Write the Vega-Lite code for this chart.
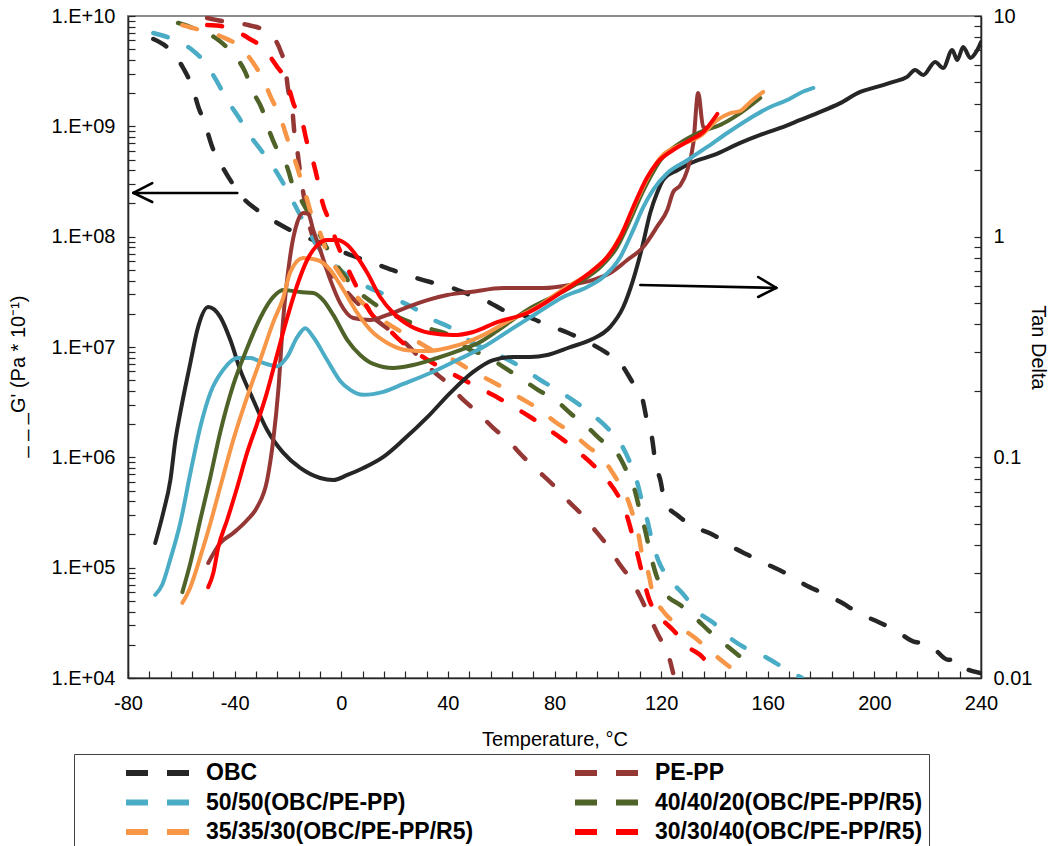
{
  "$schema": "https://vega.github.io/schema/vega-lite/v6.json",
  "width": 853,
  "height": 662,
  "autosize": {"type": "none"},
  "padding": {"left": 128, "top": 16, "right": 69, "bottom": 168},
  "background": "white",
  "config": {
    "font": "Liberation Sans",
    "view": {"stroke": "#8c8c8c", "strokeWidth": 2},
    "axis": {
      "grid": false,
      "domainColor": "#262626",
      "domainWidth": 1.6,
      "tickColor": "#262626",
      "tickWidth": 1.2,
      "tickSize": -7,
      "labelOverlap": false,
      "labelFont": "Liberation Sans",
      "labelFontSize": 20,
      "labelColor": "#000000",
      "titleFont": "Liberation Sans",
      "titleFontSize": 20,
      "titleFontWeight": "normal",
      "titleColor": "#000000"
    }
  },
  "datasets": {
    "storage": [
      {"Sample": "OBC", "Temperature": -70.5, "StorageModulus": 6.19e9},
      {"Sample": "OBC", "Temperature": -64.2, "StorageModulus": 4.92e9},
      {"Sample": "OBC", "Temperature": -59.3, "StorageModulus": 3.38e9},
      {"Sample": "OBC", "Temperature": -55.9, "StorageModulus": 2.27e9},
      {"Sample": "OBC", "Temperature": -53.6, "StorageModulus": 1.50e9},
      {"Sample": "OBC", "Temperature": -51.0, "StorageModulus": 1.03e9},
      {"Sample": "OBC", "Temperature": -48.4, "StorageModulus": 6.50e8},
      {"Sample": "OBC", "Temperature": -45.4, "StorageModulus": 4.66e8},
      {"Sample": "OBC", "Temperature": -40.9, "StorageModulus": 3.06e8},
      {"Sample": "OBC", "Temperature": -36.8, "StorageModulus": 2.24e8},
      {"Sample": "OBC", "Temperature": -30.4, "StorageModulus": 1.67e8},
      {"Sample": "OBC", "Temperature": -24.0, "StorageModulus": 1.33e8},
      {"Sample": "OBC", "Temperature": -15.4, "StorageModulus": 1.04e8},
      {"Sample": "OBC", "Temperature": -8.6, "StorageModulus": 8.95e7},
      {"Sample": "OBC", "Temperature": -3.0, "StorageModulus": 7.89e7},
      {"Sample": "OBC", "Temperature": 3.4, "StorageModulus": 6.82e7},
      {"Sample": "OBC", "Temperature": 12.0, "StorageModulus": 5.77e7},
      {"Sample": "OBC", "Temperature": 19.1, "StorageModulus": 4.99e7},
      {"Sample": "OBC", "Temperature": 27.0, "StorageModulus": 4.31e7},
      {"Sample": "OBC", "Temperature": 33.4, "StorageModulus": 3.88e7},
      {"Sample": "OBC", "Temperature": 41.6, "StorageModulus": 3.43e7},
      {"Sample": "OBC", "Temperature": 48.4, "StorageModulus": 2.96e7},
      {"Sample": "OBC", "Temperature": 55.9, "StorageModulus": 2.51e7},
      {"Sample": "OBC", "Temperature": 60.8, "StorageModulus": 2.16e7},
      {"Sample": "OBC", "Temperature": 70.2, "StorageModulus": 1.87e7},
      {"Sample": "OBC", "Temperature": 77.3, "StorageModulus": 1.58e7},
      {"Sample": "OBC", "Temperature": 85.2, "StorageModulus": 1.34e7},
      {"Sample": "OBC", "Temperature": 90.8, "StorageModulus": 1.16e7},
      {"Sample": "OBC", "Temperature": 99.0, "StorageModulus": 9.02e6},
      {"Sample": "OBC", "Temperature": 104.7, "StorageModulus": 7.16e6},
      {"Sample": "OBC", "Temperature": 109.2, "StorageModulus": 4.82e6},
      {"Sample": "OBC", "Temperature": 112.9, "StorageModulus": 3.45e6},
      {"Sample": "OBC", "Temperature": 114.8, "StorageModulus": 2.09e6},
      {"Sample": "OBC", "Temperature": 116.7, "StorageModulus": 1.44e6},
      {"Sample": "OBC", "Temperature": 117.8, "StorageModulus": 9.08e5},
      {"Sample": "OBC", "Temperature": 119.7, "StorageModulus": 6.22e5},
      {"Sample": "OBC", "Temperature": 121.5, "StorageModulus": 3.85e5},
      {"Sample": "OBC", "Temperature": 126.0, "StorageModulus": 3.00e5},
      {"Sample": "OBC", "Temperature": 132.8, "StorageModulus": 2.33e5},
      {"Sample": "OBC", "Temperature": 139.6, "StorageModulus": 1.98e5},
      {"Sample": "OBC", "Temperature": 146.7, "StorageModulus": 1.54e5},
      {"Sample": "OBC", "Temperature": 152.7, "StorageModulus": 1.30e5},
      {"Sample": "OBC", "Temperature": 160.2, "StorageModulus": 1.06e5},
      {"Sample": "OBC", "Temperature": 166.6, "StorageModulus": 8.95e4},
      {"Sample": "OBC", "Temperature": 174.1, "StorageModulus": 6.97e4},
      {"Sample": "OBC", "Temperature": 180.5, "StorageModulus": 5.89e4},
      {"Sample": "OBC", "Temperature": 188.0, "StorageModulus": 4.78e4},
      {"Sample": "OBC", "Temperature": 194.0, "StorageModulus": 3.88e4},
      {"Sample": "OBC", "Temperature": 201.5, "StorageModulus": 3.22e4},
      {"Sample": "OBC", "Temperature": 207.8, "StorageModulus": 2.72e4},
      {"Sample": "OBC", "Temperature": 215.3, "StorageModulus": 2.12e4},
      {"Sample": "OBC", "Temperature": 219.1, "StorageModulus": 2.07e4},
      {"Sample": "OBC", "Temperature": 221.7, "StorageModulus": 1.91e4},
      {"Sample": "OBC", "Temperature": 227.7, "StorageModulus": 1.46e4},
      {"Sample": "OBC", "Temperature": 230.3, "StorageModulus": 1.49e4},
      {"Sample": "OBC", "Temperature": 232.2, "StorageModulus": 1.31e4},
      {"Sample": "OBC", "Temperature": 239.7, "StorageModulus": 1.11e4},

      {"Sample": "PE-PP", "Temperature": -50.3, "StorageModulus": 9.6e9},
      {"Sample": "PE-PP", "Temperature": -42.8, "StorageModulus": 8.83e9},
      {"Sample": "PE-PP", "Temperature": -34.9, "StorageModulus": 8.28e9},
      {"Sample": "PE-PP", "Temperature": -27.8, "StorageModulus": 7.16e9},
      {"Sample": "PE-PP", "Temperature": -22.9, "StorageModulus": 4.92e9},
      {"Sample": "PE-PP", "Temperature": -21.0, "StorageModulus": 3.45e9},
      {"Sample": "PE-PP", "Temperature": -19.9, "StorageModulus": 2.13e9},
      {"Sample": "PE-PP", "Temperature": -18.4, "StorageModulus": 1.47e9},
      {"Sample": "PE-PP", "Temperature": -17.6, "StorageModulus": 8.89e8},
      {"Sample": "PE-PP", "Temperature": -16.5, "StorageModulus": 6.10e8},
      {"Sample": "PE-PP", "Temperature": -15.4, "StorageModulus": 3.78e8},
      {"Sample": "PE-PP", "Temperature": -14.6, "StorageModulus": 2.82e8},
      {"Sample": "PE-PP", "Temperature": -12.8, "StorageModulus": 1.57e8},
      {"Sample": "PE-PP", "Temperature": -7.9, "StorageModulus": 6.82e7},
      {"Sample": "PE-PP", "Temperature": 1.5, "StorageModulus": 3.29e7},
      {"Sample": "PE-PP", "Temperature": 10.9, "StorageModulus": 1.95e7},
      {"Sample": "PE-PP", "Temperature": 22.1, "StorageModulus": 1.2e7},
      {"Sample": "PE-PP", "Temperature": 35.3, "StorageModulus": 5.81e6},
      {"Sample": "PE-PP", "Temperature": 39.8, "StorageModulus": 4.72e6},
      {"Sample": "PE-PP", "Temperature": 45.8, "StorageModulus": 3.31e6},
      {"Sample": "PE-PP", "Temperature": 51.0, "StorageModulus": 2.58e6},
      {"Sample": "PE-PP", "Temperature": 57.0, "StorageModulus": 1.85e6},
      {"Sample": "PE-PP", "Temperature": 62.3, "StorageModulus": 1.44e6},
      {"Sample": "PE-PP", "Temperature": 68.3, "StorageModulus": 1.01e6},
      {"Sample": "PE-PP", "Temperature": 73.5, "StorageModulus": 7.67e5},
      {"Sample": "PE-PP", "Temperature": 79.5, "StorageModulus": 5.61e5},
      {"Sample": "PE-PP", "Temperature": 84.0, "StorageModulus": 4.28e5},
      {"Sample": "PE-PP", "Temperature": 90.4, "StorageModulus": 3.00e5},
      {"Sample": "PE-PP", "Temperature": 94.5, "StorageModulus": 2.29e5},
      {"Sample": "PE-PP", "Temperature": 100.2, "StorageModulus": 1.54e5},
      {"Sample": "PE-PP", "Temperature": 103.9, "StorageModulus": 1.12e5},
      {"Sample": "PE-PP", "Temperature": 109.2, "StorageModulus": 7.41e4},
      {"Sample": "PE-PP", "Temperature": 112.2, "StorageModulus": 5.42e4},
      {"Sample": "PE-PP", "Temperature": 115.9, "StorageModulus": 3.50e4},
      {"Sample": "PE-PP", "Temperature": 118.9, "StorageModulus": 2.45e4},
      {"Sample": "PE-PP", "Temperature": 122.7, "StorageModulus": 1.62e4},
      {"Sample": "PE-PP", "Temperature": 124.5, "StorageModulus": 1.11e4},

      {"Sample": "50/50(OBC/PE-PP)", "Temperature": -70.5, "StorageModulus": 7.02e9},
      {"Sample": "50/50(OBC/PE-PP)", "Temperature": -63.4, "StorageModulus": 6.19e9},
      {"Sample": "50/50(OBC/PE-PP)", "Temperature": -55.9, "StorageModulus": 4.92e9},
      {"Sample": "50/50(OBC/PE-PP)", "Temperature": -51.0, "StorageModulus": 3.75e9},
      {"Sample": "50/50(OBC/PE-PP)", "Temperature": -46.5, "StorageModulus": 2.52e9},
      {"Sample": "50/50(OBC/PE-PP)", "Temperature": -42.8, "StorageModulus": 1.73e9},
      {"Sample": "50/50(OBC/PE-PP)", "Temperature": -38.6, "StorageModulus": 1.22e9},
      {"Sample": "50/50(OBC/PE-PP)", "Temperature": -34.9, "StorageModulus": 8.71e8},
      {"Sample": "50/50(OBC/PE-PP)", "Temperature": -29.6, "StorageModulus": 5.85e8},
      {"Sample": "50/50(OBC/PE-PP)", "Temperature": -25.5, "StorageModulus": 4.28e8},
      {"Sample": "50/50(OBC/PE-PP)", "Temperature": -21.0, "StorageModulus": 2.82e8},
      {"Sample": "50/50(OBC/PE-PP)", "Temperature": -18.0, "StorageModulus": 2.06e8},
      {"Sample": "50/50(OBC/PE-PP)", "Temperature": -13.5, "StorageModulus": 1.28e8},
      {"Sample": "50/50(OBC/PE-PP)", "Temperature": -7.9, "StorageModulus": 7.57e7},
      {"Sample": "50/50(OBC/PE-PP)", "Temperature": -0.4, "StorageModulus": 4.99e7},
      {"Sample": "50/50(OBC/PE-PP)", "Temperature": 6.0, "StorageModulus": 3.88e7},
      {"Sample": "50/50(OBC/PE-PP)", "Temperature": 9.8, "StorageModulus": 3.50e7},
      {"Sample": "50/50(OBC/PE-PP)", "Temperature": 21.0, "StorageModulus": 2.67e7},
      {"Sample": "50/50(OBC/PE-PP)", "Temperature": 25.9, "StorageModulus": 2.35e7},
      {"Sample": "50/50(OBC/PE-PP)", "Temperature": 34.5, "StorageModulus": 1.76e7},
      {"Sample": "50/50(OBC/PE-PP)", "Temperature": 39.8, "StorageModulus": 1.55e7},
      {"Sample": "50/50(OBC/PE-PP)", "Temperature": 49.5, "StorageModulus": 1.09e7},
      {"Sample": "50/50(OBC/PE-PP)", "Temperature": 54.8, "StorageModulus": 9.40e6},
      {"Sample": "50/50(OBC/PE-PP)", "Temperature": 64.2, "StorageModulus": 7.31e6},
      {"Sample": "50/50(OBC/PE-PP)", "Temperature": 67.9, "StorageModulus": 6.46e6},
      {"Sample": "50/50(OBC/PE-PP)", "Temperature": 74.7, "StorageModulus": 5.02e6},
      {"Sample": "50/50(OBC/PE-PP)", "Temperature": 81.0, "StorageModulus": 4.07e6},
      {"Sample": "50/50(OBC/PE-PP)", "Temperature": 88.5, "StorageModulus": 3.10e6},
      {"Sample": "50/50(OBC/PE-PP)", "Temperature": 93.4, "StorageModulus": 2.52e6},
      {"Sample": "50/50(OBC/PE-PP)", "Temperature": 99.8, "StorageModulus": 1.85e6},
      {"Sample": "50/50(OBC/PE-PP)", "Temperature": 104.7, "StorageModulus": 1.35e6},
      {"Sample": "50/50(OBC/PE-PP)", "Temperature": 108.4, "StorageModulus": 8.89e5},
      {"Sample": "50/50(OBC/PE-PP)", "Temperature": 111.0, "StorageModulus": 5.97e5},
      {"Sample": "50/50(OBC/PE-PP)", "Temperature": 112.9, "StorageModulus": 3.94e5},
      {"Sample": "50/50(OBC/PE-PP)", "Temperature": 114.8, "StorageModulus": 2.70e5},
      {"Sample": "50/50(OBC/PE-PP)", "Temperature": 116.7, "StorageModulus": 1.71e5},
      {"Sample": "50/50(OBC/PE-PP)", "Temperature": 118.9, "StorageModulus": 1.17e5},
      {"Sample": "50/50(OBC/PE-PP)", "Temperature": 123.4, "StorageModulus": 7.73e4},
      {"Sample": "50/50(OBC/PE-PP)", "Temperature": 127.9, "StorageModulus": 5.89e4},
      {"Sample": "50/50(OBC/PE-PP)", "Temperature": 133.9, "StorageModulus": 3.96e4},
      {"Sample": "50/50(OBC/PE-PP)", "Temperature": 139.6, "StorageModulus": 3.16e4},
      {"Sample": "50/50(OBC/PE-PP)", "Temperature": 145.9, "StorageModulus": 2.30e4},
      {"Sample": "50/50(OBC/PE-PP)", "Temperature": 151.6, "StorageModulus": 1.87e4},
      {"Sample": "50/50(OBC/PE-PP)", "Temperature": 159.8, "StorageModulus": 1.52e4},
      {"Sample": "50/50(OBC/PE-PP)", "Temperature": 165.4, "StorageModulus": 1.26e4},
      {"Sample": "50/50(OBC/PE-PP)", "Temperature": 172.9, "StorageModulus": 1.0e4},

      {"Sample": "40/40/20(OBC/PE-PP/R5)", "Temperature": -61.2, "StorageModulus": 8.65e9},
      {"Sample": "40/40/20(OBC/PE-PP/R5)", "Temperature": -56.6, "StorageModulus": 7.94e9},
      {"Sample": "40/40/20(OBC/PE-PP/R5)", "Temperature": -46.1, "StorageModulus": 6.05e9},
      {"Sample": "40/40/20(OBC/PE-PP/R5)", "Temperature": -40.9, "StorageModulus": 4.62e9},
      {"Sample": "40/40/20(OBC/PE-PP/R5)", "Temperature": -36.0, "StorageModulus": 3.10e9},
      {"Sample": "40/40/20(OBC/PE-PP/R5)", "Temperature": -33.4, "StorageModulus": 2.13e9},
      {"Sample": "40/40/20(OBC/PE-PP/R5)", "Temperature": -29.6, "StorageModulus": 1.41e9},
      {"Sample": "40/40/20(OBC/PE-PP/R5)", "Temperature": -27.4, "StorageModulus": 9.66e8},
      {"Sample": "40/40/20(OBC/PE-PP/R5)", "Temperature": -24.0, "StorageModulus": 6.10e8},
      {"Sample": "40/40/20(OBC/PE-PP/R5)", "Temperature": -20.3, "StorageModulus": 4.28e8},
      {"Sample": "40/40/20(OBC/PE-PP/R5)", "Temperature": -18.0, "StorageModulus": 2.82e8},
      {"Sample": "40/40/20(OBC/PE-PP/R5)", "Temperature": -14.6, "StorageModulus": 2.06e8},
      {"Sample": "40/40/20(OBC/PE-PP/R5)", "Temperature": -10.5, "StorageModulus": 1.36e8},
      {"Sample": "40/40/20(OBC/PE-PP/R5)", "Temperature": -6.0, "StorageModulus": 8.40e7},
      {"Sample": "40/40/20(OBC/PE-PP/R5)", "Temperature": -0.4, "StorageModulus": 4.99e7},
      {"Sample": "40/40/20(OBC/PE-PP/R5)", "Temperature": 7.1, "StorageModulus": 3.08e7},
      {"Sample": "40/40/20(OBC/PE-PP/R5)", "Temperature": 10.9, "StorageModulus": 2.61e7},
      {"Sample": "40/40/20(OBC/PE-PP/R5)", "Temperature": 22.1, "StorageModulus": 1.83e7},
      {"Sample": "40/40/20(OBC/PE-PP/R5)", "Temperature": 34.5, "StorageModulus": 1.43e7},
      {"Sample": "40/40/20(OBC/PE-PP/R5)", "Temperature": 39.8, "StorageModulus": 1.31e7},
      {"Sample": "40/40/20(OBC/PE-PP/R5)", "Temperature": 48.4, "StorageModulus": 9.40e6},
      {"Sample": "40/40/20(OBC/PE-PP/R5)", "Temperature": 54.0, "StorageModulus": 8.45e6},
      {"Sample": "40/40/20(OBC/PE-PP/R5)", "Temperature": 60.8, "StorageModulus": 6.59e6},
      {"Sample": "40/40/20(OBC/PE-PP/R5)", "Temperature": 67.2, "StorageModulus": 5.24e6},
      {"Sample": "40/40/20(OBC/PE-PP/R5)", "Temperature": 73.9, "StorageModulus": 4.07e6},
      {"Sample": "40/40/20(OBC/PE-PP/R5)", "Temperature": 80.3, "StorageModulus": 3.31e6},
      {"Sample": "40/40/20(OBC/PE-PP/R5)", "Temperature": 86.7, "StorageModulus": 2.42e6},
      {"Sample": "40/40/20(OBC/PE-PP/R5)", "Temperature": 92.3, "StorageModulus": 1.88e6},
      {"Sample": "40/40/20(OBC/PE-PP/R5)", "Temperature": 98.3, "StorageModulus": 1.38e6},
      {"Sample": "40/40/20(OBC/PE-PP/R5)", "Temperature": 103.5, "StorageModulus": 1.09e6},
      {"Sample": "40/40/20(OBC/PE-PP/R5)", "Temperature": 107.7, "StorageModulus": 6.92e5},
      {"Sample": "40/40/20(OBC/PE-PP/R5)", "Temperature": 110.3, "StorageModulus": 4.85e5},
      {"Sample": "40/40/20(OBC/PE-PP/R5)", "Temperature": 112.2, "StorageModulus": 3.13e5},
      {"Sample": "40/40/20(OBC/PE-PP/R5)", "Temperature": 114.0, "StorageModulus": 2.19e5},
      {"Sample": "40/40/20(OBC/PE-PP/R5)", "Temperature": 115.9, "StorageModulus": 1.36e5},
      {"Sample": "40/40/20(OBC/PE-PP/R5)", "Temperature": 117.8, "StorageModulus": 9.14e4},
      {"Sample": "40/40/20(OBC/PE-PP/R5)", "Temperature": 121.5, "StorageModulus": 5.89e4},
      {"Sample": "40/40/20(OBC/PE-PP/R5)", "Temperature": 127.2, "StorageModulus": 4.59e4},
      {"Sample": "40/40/20(OBC/PE-PP/R5)", "Temperature": 133.6, "StorageModulus": 3.36e4},
      {"Sample": "40/40/20(OBC/PE-PP/R5)", "Temperature": 138.4, "StorageModulus": 2.61e4},
      {"Sample": "40/40/20(OBC/PE-PP/R5)", "Temperature": 145.2, "StorageModulus": 1.91e4},
      {"Sample": "40/40/20(OBC/PE-PP/R5)", "Temperature": 151.6, "StorageModulus": 1.43e4},

      {"Sample": "35/35/30(OBC/PE-PP/R5)", "Temperature": -59.6, "StorageModulus": 8.28e9},
      {"Sample": "35/35/30(OBC/PE-PP/R5)", "Temperature": -52.9, "StorageModulus": 7.46e9},
      {"Sample": "35/35/30(OBC/PE-PP/R5)", "Temperature": -44.6, "StorageModulus": 6.46e9},
      {"Sample": "35/35/30(OBC/PE-PP/R5)", "Temperature": -39.0, "StorageModulus": 5.46e9},
      {"Sample": "35/35/30(OBC/PE-PP/R5)", "Temperature": -33.0, "StorageModulus": 3.75e9},
      {"Sample": "35/35/30(OBC/PE-PP/R5)", "Temperature": -29.6, "StorageModulus": 2.74e9},
      {"Sample": "35/35/30(OBC/PE-PP/R5)", "Temperature": -25.9, "StorageModulus": 1.73e9},
      {"Sample": "35/35/30(OBC/PE-PP/R5)", "Temperature": -22.9, "StorageModulus": 1.22e9},
      {"Sample": "35/35/30(OBC/PE-PP/R5)", "Temperature": -20.3, "StorageModulus": 7.83e8},
      {"Sample": "35/35/30(OBC/PE-PP/R5)", "Temperature": -18.0, "StorageModulus": 5.50e8},
      {"Sample": "35/35/30(OBC/PE-PP/R5)", "Temperature": -15.4, "StorageModulus": 3.48e8},
      {"Sample": "35/35/30(OBC/PE-PP/R5)", "Temperature": -13.5, "StorageModulus": 2.49e8},
      {"Sample": "35/35/30(OBC/PE-PP/R5)", "Temperature": -10.9, "StorageModulus": 1.51e8},
      {"Sample": "35/35/30(OBC/PE-PP/R5)", "Temperature": -7.9, "StorageModulus": 1.08e8},
      {"Sample": "35/35/30(OBC/PE-PP/R5)", "Temperature": -5.3, "StorageModulus": 7.11e7},
      {"Sample": "35/35/30(OBC/PE-PP/R5)", "Temperature": -1.5, "StorageModulus": 4.99e7},
      {"Sample": "35/35/30(OBC/PE-PP/R5)", "Temperature": 5.3, "StorageModulus": 2.96e7},
      {"Sample": "35/35/30(OBC/PE-PP/R5)", "Temperature": 14.6, "StorageModulus": 1.83e7},
      {"Sample": "35/35/30(OBC/PE-PP/R5)", "Temperature": 25.9, "StorageModulus": 1.23e7},
      {"Sample": "35/35/30(OBC/PE-PP/R5)", "Temperature": 35.3, "StorageModulus": 9.02e6},
      {"Sample": "35/35/30(OBC/PE-PP/R5)", "Temperature": 43.5, "StorageModulus": 7.31e6},
      {"Sample": "35/35/30(OBC/PE-PP/R5)", "Temperature": 46.5, "StorageModulus": 6.59e6},
      {"Sample": "35/35/30(OBC/PE-PP/R5)", "Temperature": 54.0, "StorageModulus": 5.24e6},
      {"Sample": "35/35/30(OBC/PE-PP/R5)", "Temperature": 58.9, "StorageModulus": 4.53e6},
      {"Sample": "35/35/30(OBC/PE-PP/R5)", "Temperature": 67.2, "StorageModulus": 3.45e6},
      {"Sample": "35/35/30(OBC/PE-PP/R5)", "Temperature": 73.5, "StorageModulus": 2.80e6},
      {"Sample": "35/35/30(OBC/PE-PP/R5)", "Temperature": 80.3, "StorageModulus": 2.09e6},
      {"Sample": "35/35/30(OBC/PE-PP/R5)", "Temperature": 85.9, "StorageModulus": 1.70e6},
      {"Sample": "35/35/30(OBC/PE-PP/R5)", "Temperature": 92.7, "StorageModulus": 1.24e6},
      {"Sample": "35/35/30(OBC/PE-PP/R5)", "Temperature": 97.9, "StorageModulus": 9.86e5},
      {"Sample": "35/35/30(OBC/PE-PP/R5)", "Temperature": 102.8, "StorageModulus": 6.64e5},
      {"Sample": "35/35/30(OBC/PE-PP/R5)", "Temperature": 106.5, "StorageModulus": 4.75e5},
      {"Sample": "35/35/30(OBC/PE-PP/R5)", "Temperature": 109.2, "StorageModulus": 3.13e5},
      {"Sample": "35/35/30(OBC/PE-PP/R5)", "Temperature": 111.4, "StorageModulus": 2.06e5},
      {"Sample": "35/35/30(OBC/PE-PP/R5)", "Temperature": 112.9, "StorageModulus": 1.30e5},
      {"Sample": "35/35/30(OBC/PE-PP/R5)", "Temperature": 115.2, "StorageModulus": 8.95e4},
      {"Sample": "35/35/30(OBC/PE-PP/R5)", "Temperature": 117.0, "StorageModulus": 5.65e4},
      {"Sample": "35/35/30(OBC/PE-PP/R5)", "Temperature": 120.4, "StorageModulus": 4.13e4},
      {"Sample": "35/35/30(OBC/PE-PP/R5)", "Temperature": 127.2, "StorageModulus": 2.90e4},
      {"Sample": "35/35/30(OBC/PE-PP/R5)", "Temperature": 132.8, "StorageModulus": 2.30e4},
      {"Sample": "35/35/30(OBC/PE-PP/R5)", "Temperature": 139.2, "StorageModulus": 1.69e4},
      {"Sample": "35/35/30(OBC/PE-PP/R5)", "Temperature": 144.8, "StorageModulus": 1.31e4},
      {"Sample": "35/35/30(OBC/PE-PP/R5)", "Temperature": 152.3, "StorageModulus": 1.0e4},

      {"Sample": "30/30/40(OBC/PE-PP/R5)", "Temperature": -50.3, "StorageModulus": 8.28e9},
      {"Sample": "30/30/40(OBC/PE-PP/R5)", "Temperature": -42.8, "StorageModulus": 7.94e9},
      {"Sample": "30/30/40(OBC/PE-PP/R5)", "Temperature": -34.9, "StorageModulus": 6.32e9},
      {"Sample": "30/30/40(OBC/PE-PP/R5)", "Temperature": -29.3, "StorageModulus": 5.13e9},
      {"Sample": "30/30/40(OBC/PE-PP/R5)", "Temperature": -24.0, "StorageModulus": 3.45e9},
      {"Sample": "30/30/40(OBC/PE-PP/R5)", "Temperature": -20.3, "StorageModulus": 2.52e9},
      {"Sample": "30/30/40(OBC/PE-PP/R5)", "Temperature": -18.0, "StorageModulus": 1.63e9},
      {"Sample": "30/30/40(OBC/PE-PP/R5)", "Temperature": -14.6, "StorageModulus": 1.09e9},
      {"Sample": "30/30/40(OBC/PE-PP/R5)", "Temperature": -12.8, "StorageModulus": 7.06e8},
      {"Sample": "30/30/40(OBC/PE-PP/R5)", "Temperature": -10.5, "StorageModulus": 4.75e8},
      {"Sample": "30/30/40(OBC/PE-PP/R5)", "Temperature": -8.6, "StorageModulus": 3.06e8},
      {"Sample": "30/30/40(OBC/PE-PP/R5)", "Temperature": -7.1, "StorageModulus": 2.06e8},
      {"Sample": "30/30/40(OBC/PE-PP/R5)", "Temperature": -4.1, "StorageModulus": 1.33e8},
      {"Sample": "30/30/40(OBC/PE-PP/R5)", "Temperature": -2.3, "StorageModulus": 9.73e7},
      {"Sample": "30/30/40(OBC/PE-PP/R5)", "Temperature": 1.5, "StorageModulus": 5.77e7},
      {"Sample": "30/30/40(OBC/PE-PP/R5)", "Temperature": 4.5, "StorageModulus": 4.05e7},
      {"Sample": "30/30/40(OBC/PE-PP/R5)", "Temperature": 7.9, "StorageModulus": 2.78e7},
      {"Sample": "30/30/40(OBC/PE-PP/R5)", "Temperature": 10.9, "StorageModulus": 2.07e7},
      {"Sample": "30/30/40(OBC/PE-PP/R5)", "Temperature": 17.3, "StorageModulus": 1.49e7},
      {"Sample": "30/30/40(OBC/PE-PP/R5)", "Temperature": 21.0, "StorageModulus": 1.21e7},
      {"Sample": "30/30/40(OBC/PE-PP/R5)", "Temperature": 29.6, "StorageModulus": 8.45e6},
      {"Sample": "30/30/40(OBC/PE-PP/R5)", "Temperature": 43.9, "StorageModulus": 5.35e6},
      {"Sample": "30/30/40(OBC/PE-PP/R5)", "Temperature": 49.5, "StorageModulus": 4.53e6},
      {"Sample": "30/30/40(OBC/PE-PP/R5)", "Temperature": 57.0, "StorageModulus": 3.67e6},
      {"Sample": "30/30/40(OBC/PE-PP/R5)", "Temperature": 63.4, "StorageModulus": 2.98e6},
      {"Sample": "30/30/40(OBC/PE-PP/R5)", "Temperature": 70.9, "StorageModulus": 2.32e6},
      {"Sample": "30/30/40(OBC/PE-PP/R5)", "Temperature": 76.5, "StorageModulus": 1.88e6},
      {"Sample": "30/30/40(OBC/PE-PP/R5)", "Temperature": 83.3, "StorageModulus": 1.44e6},
      {"Sample": "30/30/40(OBC/PE-PP/R5)", "Temperature": 88.9, "StorageModulus": 1.12e6},
      {"Sample": "30/30/40(OBC/PE-PP/R5)", "Temperature": 95.3, "StorageModulus": 8.17e5},
      {"Sample": "30/30/40(OBC/PE-PP/R5)", "Temperature": 99.8, "StorageModulus": 6.22e5},
      {"Sample": "30/30/40(OBC/PE-PP/R5)", "Temperature": 104.7, "StorageModulus": 4.10e5},
      {"Sample": "30/30/40(OBC/PE-PP/R5)", "Temperature": 107.3, "StorageModulus": 2.88e5},
      {"Sample": "30/30/40(OBC/PE-PP/R5)", "Temperature": 109.5, "StorageModulus": 1.86e5},
      {"Sample": "30/30/40(OBC/PE-PP/R5)", "Temperature": 111.4, "StorageModulus": 1.25e5},
      {"Sample": "30/30/40(OBC/PE-PP/R5)", "Temperature": 113.3, "StorageModulus": 8.05e4},
      {"Sample": "30/30/40(OBC/PE-PP/R5)", "Temperature": 115.2, "StorageModulus": 5.42e4},
      {"Sample": "30/30/40(OBC/PE-PP/R5)", "Temperature": 119.7, "StorageModulus": 3.57e4},
      {"Sample": "30/30/40(OBC/PE-PP/R5)", "Temperature": 124.5, "StorageModulus": 2.72e4},
      {"Sample": "30/30/40(OBC/PE-PP/R5)", "Temperature": 130.2, "StorageModulus": 1.91e4},
      {"Sample": "30/30/40(OBC/PE-PP/R5)", "Temperature": 135.8, "StorageModulus": 1.52e4},
      {"Sample": "30/30/40(OBC/PE-PP/R5)", "Temperature": 140.3, "StorageModulus": 1.02e4}
    ],
    "damping": [
      {"Sample": "OBC", "Temperature": -69.8, "TanDelta": 0.0409},
      {"Sample": "OBC", "Temperature": -66.8, "TanDelta": 0.0560},
      {"Sample": "OBC", "Temperature": -64.1, "TanDelta": 0.0789},
      {"Sample": "OBC", "Temperature": -62.2, "TanDelta": 0.120},
      {"Sample": "OBC", "Temperature": -60.4, "TanDelta": 0.159},
      {"Sample": "OBC", "Temperature": -56.6, "TanDelta": 0.268},
      {"Sample": "OBC", "Temperature": -54.0, "TanDelta": 0.378},
      {"Sample": "OBC", "Temperature": -49.9, "TanDelta": 0.480},
      {"Sample": "OBC", "Temperature": -45.4, "TanDelta": 0.433},
      {"Sample": "OBC", "Temperature": -41.6, "TanDelta": 0.340},
      {"Sample": "OBC", "Temperature": -37.9, "TanDelta": 0.249},
      {"Sample": "OBC", "Temperature": -33.0, "TanDelta": 0.182},
      {"Sample": "OBC", "Temperature": -27.8, "TanDelta": 0.133},
      {"Sample": "OBC", "Temperature": -21.8, "TanDelta": 0.105},
      {"Sample": "OBC", "Temperature": -15.4, "TanDelta": 0.0895},
      {"Sample": "OBC", "Temperature": -7.9, "TanDelta": 0.0806},
      {"Sample": "OBC", "Temperature": -3.0, "TanDelta": 0.0789},
      {"Sample": "OBC", "Temperature": 2.3, "TanDelta": 0.0832},
      {"Sample": "OBC", "Temperature": 8.3, "TanDelta": 0.0895},
      {"Sample": "OBC", "Temperature": 15.8, "TanDelta": 0.1005},
      {"Sample": "OBC", "Temperature": 23.3, "TanDelta": 0.120},
      {"Sample": "OBC", "Temperature": 32.3, "TanDelta": 0.152},
      {"Sample": "OBC", "Temperature": 40.9, "TanDelta": 0.196},
      {"Sample": "OBC", "Temperature": 49.5, "TanDelta": 0.244},
      {"Sample": "OBC", "Temperature": 57.0, "TanDelta": 0.276},
      {"Sample": "OBC", "Temperature": 64.5, "TanDelta": 0.285},
      {"Sample": "OBC", "Temperature": 70.9, "TanDelta": 0.285},
      {"Sample": "OBC", "Temperature": 77.3, "TanDelta": 0.291},
      {"Sample": "OBC", "Temperature": 85.9, "TanDelta": 0.316},
      {"Sample": "OBC", "Temperature": 93.4, "TanDelta": 0.340},
      {"Sample": "OBC", "Temperature": 100.9, "TanDelta": 0.390},
      {"Sample": "OBC", "Temperature": 105.8, "TanDelta": 0.480},
      {"Sample": "OBC", "Temperature": 109.5, "TanDelta": 0.637},
      {"Sample": "OBC", "Temperature": 112.9, "TanDelta": 0.898},
      {"Sample": "OBC", "Temperature": 115.9, "TanDelta": 1.28},
      {"Sample": "OBC", "Temperature": 118.5, "TanDelta": 1.58},
      {"Sample": "OBC", "Temperature": 120.8, "TanDelta": 1.81},
      {"Sample": "OBC", "Temperature": 126.1, "TanDelta": 2.00},
      {"Sample": "OBC", "Temperature": 132.1, "TanDelta": 2.18},
      {"Sample": "OBC", "Temperature": 139.6, "TanDelta": 2.34},
      {"Sample": "OBC", "Temperature": 149.7, "TanDelta": 2.66},
      {"Sample": "OBC", "Temperature": 157.2, "TanDelta": 2.89},
      {"Sample": "OBC", "Temperature": 164.7, "TanDelta": 3.11},
      {"Sample": "OBC", "Temperature": 172.2, "TanDelta": 3.38},
      {"Sample": "OBC", "Temperature": 178.6, "TanDelta": 3.63},
      {"Sample": "OBC", "Temperature": 187.2, "TanDelta": 4.03},
      {"Sample": "OBC", "Temperature": 194.7, "TanDelta": 4.53},
      {"Sample": "OBC", "Temperature": 199.6, "TanDelta": 4.72},
      {"Sample": "OBC", "Temperature": 207.1, "TanDelta": 5.03},
      {"Sample": "OBC", "Temperature": 212.3, "TanDelta": 5.30},
      {"Sample": "OBC", "Temperature": 215.3, "TanDelta": 5.69},
      {"Sample": "OBC", "Temperature": 218.3, "TanDelta": 5.40},
      {"Sample": "OBC", "Temperature": 222.8, "TanDelta": 6.19},
      {"Sample": "OBC", "Temperature": 225.8, "TanDelta": 5.81},
      {"Sample": "OBC", "Temperature": 229.2, "TanDelta": 7.01},
      {"Sample": "OBC", "Temperature": 231.1, "TanDelta": 6.32},
      {"Sample": "OBC", "Temperature": 233.3, "TanDelta": 7.24},
      {"Sample": "OBC", "Temperature": 236.0, "TanDelta": 6.46},
      {"Sample": "OBC", "Temperature": 238.6, "TanDelta": 7.01},
      {"Sample": "OBC", "Temperature": 240.0, "TanDelta": 7.62},

      {"Sample": "PE-PP", "Temperature": -49.9, "TanDelta": 0.0332},
      {"Sample": "PE-PP", "Temperature": -45.4, "TanDelta": 0.0409},
      {"Sample": "PE-PP", "Temperature": -40.5, "TanDelta": 0.0454},
      {"Sample": "PE-PP", "Temperature": -35.3, "TanDelta": 0.0520},
      {"Sample": "PE-PP", "Temperature": -31.5, "TanDelta": 0.0596},
      {"Sample": "PE-PP", "Temperature": -27.8, "TanDelta": 0.0789},
      {"Sample": "PE-PP", "Temperature": -25.5, "TanDelta": 0.120},
      {"Sample": "PE-PP", "Temperature": -23.6, "TanDelta": 0.202},
      {"Sample": "PE-PP", "Temperature": -21.8, "TanDelta": 0.419},
      {"Sample": "PE-PP", "Temperature": -19.1, "TanDelta": 0.826},
      {"Sample": "PE-PP", "Temperature": -16.5, "TanDelta": 1.16},
      {"Sample": "PE-PP", "Temperature": -14.3, "TanDelta": 1.28},
      {"Sample": "PE-PP", "Temperature": -12.4, "TanDelta": 1.27},
      {"Sample": "PE-PP", "Temperature": -10.5, "TanDelta": 1.07},
      {"Sample": "PE-PP", "Temperature": -7.9, "TanDelta": 0.870},
      {"Sample": "PE-PP", "Temperature": -4.1, "TanDelta": 0.637},
      {"Sample": "PE-PP", "Temperature": -0.4, "TanDelta": 0.500},
      {"Sample": "PE-PP", "Temperature": 4.5, "TanDelta": 0.428},
      {"Sample": "PE-PP", "Temperature": 10.9, "TanDelta": 0.419},
      {"Sample": "PE-PP", "Temperature": 17.3, "TanDelta": 0.442},
      {"Sample": "PE-PP", "Temperature": 24.8, "TanDelta": 0.480},
      {"Sample": "PE-PP", "Temperature": 32.3, "TanDelta": 0.516},
      {"Sample": "PE-PP", "Temperature": 39.8, "TanDelta": 0.544},
      {"Sample": "PE-PP", "Temperature": 48.4, "TanDelta": 0.561},
      {"Sample": "PE-PP", "Temperature": 60.8, "TanDelta": 0.585},
      {"Sample": "PE-PP", "Temperature": 75.8, "TanDelta": 0.585},
      {"Sample": "PE-PP", "Temperature": 85.9, "TanDelta": 0.604},
      {"Sample": "PE-PP", "Temperature": 94.5, "TanDelta": 0.637},
      {"Sample": "PE-PP", "Temperature": 100.9, "TanDelta": 0.684},
      {"Sample": "PE-PP", "Temperature": 107.3, "TanDelta": 0.784},
      {"Sample": "PE-PP", "Temperature": 113.3, "TanDelta": 0.898},
      {"Sample": "PE-PP", "Temperature": 118.5, "TanDelta": 1.11},
      {"Sample": "PE-PP", "Temperature": 122.3, "TanDelta": 1.32},
      {"Sample": "PE-PP", "Temperature": 124.5, "TanDelta": 1.59},
      {"Sample": "PE-PP", "Temperature": 127.2, "TanDelta": 1.71},
      {"Sample": "PE-PP", "Temperature": 129.8, "TanDelta": 2.00},
      {"Sample": "PE-PP", "Temperature": 132.1, "TanDelta": 2.66},
      {"Sample": "PE-PP", "Temperature": 133.9, "TanDelta": 4.48},
      {"Sample": "PE-PP", "Temperature": 135.8, "TanDelta": 3.14},
      {"Sample": "PE-PP", "Temperature": 137.3, "TanDelta": 3.11},

      {"Sample": "50/50(OBC/PE-PP)", "Temperature": -69.8, "TanDelta": 0.0238},
      {"Sample": "50/50(OBC/PE-PP)", "Temperature": -67.2, "TanDelta": 0.0264},
      {"Sample": "50/50(OBC/PE-PP)", "Temperature": -64.2, "TanDelta": 0.0343},
      {"Sample": "50/50(OBC/PE-PP)", "Temperature": -60.4, "TanDelta": 0.0503},
      {"Sample": "50/50(OBC/PE-PP)", "Temperature": -56.6, "TanDelta": 0.0849},
      {"Sample": "50/50(OBC/PE-PP)", "Temperature": -52.9, "TanDelta": 0.137},
      {"Sample": "50/50(OBC/PE-PP)", "Temperature": -49.1, "TanDelta": 0.196},
      {"Sample": "50/50(OBC/PE-PP)", "Temperature": -44.3, "TanDelta": 0.249},
      {"Sample": "50/50(OBC/PE-PP)", "Temperature": -39.0, "TanDelta": 0.282},
      {"Sample": "50/50(OBC/PE-PP)", "Temperature": -34.1, "TanDelta": 0.282},
      {"Sample": "50/50(OBC/PE-PP)", "Temperature": -29.3, "TanDelta": 0.268},
      {"Sample": "50/50(OBC/PE-PP)", "Temperature": -24.0, "TanDelta": 0.259},
      {"Sample": "50/50(OBC/PE-PP)", "Temperature": -20.3, "TanDelta": 0.285},
      {"Sample": "50/50(OBC/PE-PP)", "Temperature": -16.5, "TanDelta": 0.351},
      {"Sample": "50/50(OBC/PE-PP)", "Temperature": -13.5, "TanDelta": 0.385},
      {"Sample": "50/50(OBC/PE-PP)", "Temperature": -10.5, "TanDelta": 0.351},
      {"Sample": "50/50(OBC/PE-PP)", "Temperature": -5.3, "TanDelta": 0.276},
      {"Sample": "50/50(OBC/PE-PP)", "Temperature": -0.4, "TanDelta": 0.222},
      {"Sample": "50/50(OBC/PE-PP)", "Temperature": 3.4, "TanDelta": 0.202},
      {"Sample": "50/50(OBC/PE-PP)", "Temperature": 8.3, "TanDelta": 0.192},
      {"Sample": "50/50(OBC/PE-PP)", "Temperature": 15.8, "TanDelta": 0.198},
      {"Sample": "50/50(OBC/PE-PP)", "Temperature": 23.3, "TanDelta": 0.215},
      {"Sample": "50/50(OBC/PE-PP)", "Temperature": 33.4, "TanDelta": 0.241},
      {"Sample": "50/50(OBC/PE-PP)", "Temperature": 43.5, "TanDelta": 0.276},
      {"Sample": "50/50(OBC/PE-PP)", "Temperature": 53.3, "TanDelta": 0.316},
      {"Sample": "50/50(OBC/PE-PP)", "Temperature": 63.4, "TanDelta": 0.378},
      {"Sample": "50/50(OBC/PE-PP)", "Temperature": 73.5, "TanDelta": 0.451},
      {"Sample": "50/50(OBC/PE-PP)", "Temperature": 83.3, "TanDelta": 0.533},
      {"Sample": "50/50(OBC/PE-PP)", "Temperature": 92.3, "TanDelta": 0.592},
      {"Sample": "50/50(OBC/PE-PP)", "Temperature": 98.3, "TanDelta": 0.656},
      {"Sample": "50/50(OBC/PE-PP)", "Temperature": 104.7, "TanDelta": 0.809},
      {"Sample": "50/50(OBC/PE-PP)", "Temperature": 109.5, "TanDelta": 1.07},
      {"Sample": "50/50(OBC/PE-PP)", "Temperature": 113.3, "TanDelta": 1.36},
      {"Sample": "50/50(OBC/PE-PP)", "Temperature": 117.0, "TanDelta": 1.63},
      {"Sample": "50/50(OBC/PE-PP)", "Temperature": 122.3, "TanDelta": 1.94},
      {"Sample": "50/50(OBC/PE-PP)", "Temperature": 129.8, "TanDelta": 2.22},
      {"Sample": "50/50(OBC/PE-PP)", "Temperature": 137.3, "TanDelta": 2.55},
      {"Sample": "50/50(OBC/PE-PP)", "Temperature": 144.8, "TanDelta": 2.95},
      {"Sample": "50/50(OBC/PE-PP)", "Temperature": 152.3, "TanDelta": 3.38},
      {"Sample": "50/50(OBC/PE-PP)", "Temperature": 160.9, "TanDelta": 3.87},
      {"Sample": "50/50(OBC/PE-PP)", "Temperature": 167.3, "TanDelta": 4.16},
      {"Sample": "50/50(OBC/PE-PP)", "Temperature": 172.2, "TanDelta": 4.48},
      {"Sample": "50/50(OBC/PE-PP)", "Temperature": 177.1, "TanDelta": 4.72},

      {"Sample": "40/40/20(OBC/PE-PP/R5)", "Temperature": -59.6, "TanDelta": 0.0245},
      {"Sample": "40/40/20(OBC/PE-PP/R5)", "Temperature": -56.6, "TanDelta": 0.0332},
      {"Sample": "40/40/20(OBC/PE-PP/R5)", "Temperature": -52.9, "TanDelta": 0.0520},
      {"Sample": "40/40/20(OBC/PE-PP/R5)", "Temperature": -49.1, "TanDelta": 0.0815},
      {"Sample": "40/40/20(OBC/PE-PP/R5)", "Temperature": -45.4, "TanDelta": 0.130},
      {"Sample": "40/40/20(OBC/PE-PP/R5)", "Temperature": -40.5, "TanDelta": 0.213},
      {"Sample": "40/40/20(OBC/PE-PP/R5)", "Temperature": -35.3, "TanDelta": 0.313},
      {"Sample": "40/40/20(OBC/PE-PP/R5)", "Temperature": -30.4, "TanDelta": 0.428},
      {"Sample": "40/40/20(OBC/PE-PP/R5)", "Temperature": -25.5, "TanDelta": 0.533},
      {"Sample": "40/40/20(OBC/PE-PP/R5)", "Temperature": -21.8, "TanDelta": 0.573},
      {"Sample": "40/40/20(OBC/PE-PP/R5)", "Temperature": -15.4, "TanDelta": 0.561},
      {"Sample": "40/40/20(OBC/PE-PP/R5)", "Temperature": -10.5, "TanDelta": 0.556},
      {"Sample": "40/40/20(OBC/PE-PP/R5)", "Temperature": -6.8, "TanDelta": 0.516},
      {"Sample": "40/40/20(OBC/PE-PP/R5)", "Temperature": -3.0, "TanDelta": 0.442},
      {"Sample": "40/40/20(OBC/PE-PP/R5)", "Temperature": 2.3, "TanDelta": 0.340},
      {"Sample": "40/40/20(OBC/PE-PP/R5)", "Temperature": 7.1, "TanDelta": 0.291},
      {"Sample": "40/40/20(OBC/PE-PP/R5)", "Temperature": 12.0, "TanDelta": 0.265},
      {"Sample": "40/40/20(OBC/PE-PP/R5)", "Temperature": 19.5, "TanDelta": 0.254},
      {"Sample": "40/40/20(OBC/PE-PP/R5)", "Temperature": 27.0, "TanDelta": 0.262},
      {"Sample": "40/40/20(OBC/PE-PP/R5)", "Temperature": 36.0, "TanDelta": 0.282},
      {"Sample": "40/40/20(OBC/PE-PP/R5)", "Temperature": 44.6, "TanDelta": 0.306},
      {"Sample": "40/40/20(OBC/PE-PP/R5)", "Temperature": 52.1, "TanDelta": 0.333},
      {"Sample": "40/40/20(OBC/PE-PP/R5)", "Temperature": 58.5, "TanDelta": 0.374},
      {"Sample": "40/40/20(OBC/PE-PP/R5)", "Temperature": 69.8, "TanDelta": 0.466},
      {"Sample": "40/40/20(OBC/PE-PP/R5)", "Temperature": 82.2, "TanDelta": 0.556},
      {"Sample": "40/40/20(OBC/PE-PP/R5)", "Temperature": 92.3, "TanDelta": 0.656},
      {"Sample": "40/40/20(OBC/PE-PP/R5)", "Temperature": 97.2, "TanDelta": 0.729},
      {"Sample": "40/40/20(OBC/PE-PP/R5)", "Temperature": 103.5, "TanDelta": 0.898},
      {"Sample": "40/40/20(OBC/PE-PP/R5)", "Temperature": 108.4, "TanDelta": 1.19},
      {"Sample": "40/40/20(OBC/PE-PP/R5)", "Temperature": 112.9, "TanDelta": 1.58},
      {"Sample": "40/40/20(OBC/PE-PP/R5)", "Temperature": 115.9, "TanDelta": 1.86},
      {"Sample": "40/40/20(OBC/PE-PP/R5)", "Temperature": 119.7, "TanDelta": 2.22},
      {"Sample": "40/40/20(OBC/PE-PP/R5)", "Temperature": 127.2, "TanDelta": 2.66},
      {"Sample": "40/40/20(OBC/PE-PP/R5)", "Temperature": 134.7, "TanDelta": 2.98},
      {"Sample": "40/40/20(OBC/PE-PP/R5)", "Temperature": 142.2, "TanDelta": 3.21},
      {"Sample": "40/40/20(OBC/PE-PP/R5)", "Temperature": 149.7, "TanDelta": 3.63},
      {"Sample": "40/40/20(OBC/PE-PP/R5)", "Temperature": 157.2, "TanDelta": 4.25},

      {"Sample": "35/35/30(OBC/PE-PP/R5)", "Temperature": -59.6, "TanDelta": 0.0219},
      {"Sample": "35/35/30(OBC/PE-PP/R5)", "Temperature": -56.6, "TanDelta": 0.0258},
      {"Sample": "35/35/30(OBC/PE-PP/R5)", "Temperature": -52.9, "TanDelta": 0.0353},
      {"Sample": "35/35/30(OBC/PE-PP/R5)", "Temperature": -49.1, "TanDelta": 0.0503},
      {"Sample": "35/35/30(OBC/PE-PP/R5)", "Temperature": -45.4, "TanDelta": 0.0734},
      {"Sample": "35/35/30(OBC/PE-PP/R5)", "Temperature": -40.5, "TanDelta": 0.120},
      {"Sample": "35/35/30(OBC/PE-PP/R5)", "Temperature": -35.3, "TanDelta": 0.188},
      {"Sample": "35/35/30(OBC/PE-PP/R5)", "Temperature": -30.4, "TanDelta": 0.276},
      {"Sample": "35/35/30(OBC/PE-PP/R5)", "Temperature": -25.5, "TanDelta": 0.410},
      {"Sample": "35/35/30(OBC/PE-PP/R5)", "Temperature": -21.8, "TanDelta": 0.527},
      {"Sample": "35/35/30(OBC/PE-PP/R5)", "Temperature": -19.1, "TanDelta": 0.692},
      {"Sample": "35/35/30(OBC/PE-PP/R5)", "Temperature": -14.3, "TanDelta": 0.800},
      {"Sample": "35/35/30(OBC/PE-PP/R5)", "Temperature": -9.0, "TanDelta": 0.784},
      {"Sample": "35/35/30(OBC/PE-PP/R5)", "Temperature": -4.1, "TanDelta": 0.706},
      {"Sample": "35/35/30(OBC/PE-PP/R5)", "Temperature": 0.8, "TanDelta": 0.573},
      {"Sample": "35/35/30(OBC/PE-PP/R5)", "Temperature": 6.0, "TanDelta": 0.451},
      {"Sample": "35/35/30(OBC/PE-PP/R5)", "Temperature": 10.9, "TanDelta": 0.378},
      {"Sample": "35/35/30(OBC/PE-PP/R5)", "Temperature": 17.3, "TanDelta": 0.330},
      {"Sample": "35/35/30(OBC/PE-PP/R5)", "Temperature": 24.8, "TanDelta": 0.306},
      {"Sample": "35/35/30(OBC/PE-PP/R5)", "Temperature": 32.3, "TanDelta": 0.303},
      {"Sample": "35/35/30(OBC/PE-PP/R5)", "Temperature": 39.8, "TanDelta": 0.313},
      {"Sample": "35/35/30(OBC/PE-PP/R5)", "Temperature": 47.3, "TanDelta": 0.333},
      {"Sample": "35/35/30(OBC/PE-PP/R5)", "Temperature": 53.3, "TanDelta": 0.358},
      {"Sample": "35/35/30(OBC/PE-PP/R5)", "Temperature": 63.4, "TanDelta": 0.419},
      {"Sample": "35/35/30(OBC/PE-PP/R5)", "Temperature": 73.5, "TanDelta": 0.480},
      {"Sample": "35/35/30(OBC/PE-PP/R5)", "Temperature": 82.2, "TanDelta": 0.567},
      {"Sample": "35/35/30(OBC/PE-PP/R5)", "Temperature": 94.5, "TanDelta": 0.706},
      {"Sample": "35/35/30(OBC/PE-PP/R5)", "Temperature": 100.9, "TanDelta": 0.843},
      {"Sample": "35/35/30(OBC/PE-PP/R5)", "Temperature": 105.8, "TanDelta": 1.07},
      {"Sample": "35/35/30(OBC/PE-PP/R5)", "Temperature": 111.0, "TanDelta": 1.47},
      {"Sample": "35/35/30(OBC/PE-PP/R5)", "Temperature": 115.9, "TanDelta": 1.94},
      {"Sample": "35/35/30(OBC/PE-PP/R5)", "Temperature": 119.7, "TanDelta": 2.28},
      {"Sample": "35/35/30(OBC/PE-PP/R5)", "Temperature": 127.2, "TanDelta": 2.60},
      {"Sample": "35/35/30(OBC/PE-PP/R5)", "Temperature": 134.7, "TanDelta": 2.86},
      {"Sample": "35/35/30(OBC/PE-PP/R5)", "Temperature": 141.1, "TanDelta": 3.38},
      {"Sample": "35/35/30(OBC/PE-PP/R5)", "Temperature": 146.0, "TanDelta": 3.63},
      {"Sample": "35/35/30(OBC/PE-PP/R5)", "Temperature": 149.7, "TanDelta": 3.71},
      {"Sample": "35/35/30(OBC/PE-PP/R5)", "Temperature": 153.4, "TanDelta": 4.07},
      {"Sample": "35/35/30(OBC/PE-PP/R5)", "Temperature": 158.3, "TanDelta": 4.53},

      {"Sample": "30/30/40(OBC/PE-PP/R5)", "Temperature": -49.9, "TanDelta": 0.0258},
      {"Sample": "30/30/40(OBC/PE-PP/R5)", "Temperature": -48.0, "TanDelta": 0.0299},
      {"Sample": "30/30/40(OBC/PE-PP/R5)", "Temperature": -46.1, "TanDelta": 0.0393},
      {"Sample": "30/30/40(OBC/PE-PP/R5)", "Temperature": -42.8, "TanDelta": 0.0520},
      {"Sample": "30/30/40(OBC/PE-PP/R5)", "Temperature": -39.0, "TanDelta": 0.0734},
      {"Sample": "30/30/40(OBC/PE-PP/R5)", "Temperature": -35.3, "TanDelta": 0.105},
      {"Sample": "30/30/40(OBC/PE-PP/R5)", "Temperature": -31.5, "TanDelta": 0.143},
      {"Sample": "30/30/40(OBC/PE-PP/R5)", "Temperature": -27.8, "TanDelta": 0.198},
      {"Sample": "30/30/40(OBC/PE-PP/R5)", "Temperature": -24.0, "TanDelta": 0.294},
      {"Sample": "30/30/40(OBC/PE-PP/R5)", "Temperature": -20.3, "TanDelta": 0.428},
      {"Sample": "30/30/40(OBC/PE-PP/R5)", "Temperature": -16.5, "TanDelta": 0.604},
      {"Sample": "30/30/40(OBC/PE-PP/R5)", "Temperature": -12.8, "TanDelta": 0.784},
      {"Sample": "30/30/40(OBC/PE-PP/R5)", "Temperature": -9.0, "TanDelta": 0.916},
      {"Sample": "30/30/40(OBC/PE-PP/R5)", "Temperature": -5.3, "TanDelta": 0.966},
      {"Sample": "30/30/40(OBC/PE-PP/R5)", "Temperature": -1.5, "TanDelta": 0.966},
      {"Sample": "30/30/40(OBC/PE-PP/R5)", "Temperature": 2.3, "TanDelta": 0.916},
      {"Sample": "30/30/40(OBC/PE-PP/R5)", "Temperature": 6.0, "TanDelta": 0.809},
      {"Sample": "30/30/40(OBC/PE-PP/R5)", "Temperature": 9.8, "TanDelta": 0.684},
      {"Sample": "30/30/40(OBC/PE-PP/R5)", "Temperature": 14.6, "TanDelta": 0.533},
      {"Sample": "30/30/40(OBC/PE-PP/R5)", "Temperature": 19.5, "TanDelta": 0.451},
      {"Sample": "30/30/40(OBC/PE-PP/R5)", "Temperature": 25.9, "TanDelta": 0.394},
      {"Sample": "30/30/40(OBC/PE-PP/R5)", "Temperature": 33.4, "TanDelta": 0.366},
      {"Sample": "30/30/40(OBC/PE-PP/R5)", "Temperature": 42.0, "TanDelta": 0.358},
      {"Sample": "30/30/40(OBC/PE-PP/R5)", "Temperature": 49.5, "TanDelta": 0.370},
      {"Sample": "30/30/40(OBC/PE-PP/R5)", "Temperature": 58.5, "TanDelta": 0.410},
      {"Sample": "30/30/40(OBC/PE-PP/R5)", "Temperature": 69.8, "TanDelta": 0.451},
      {"Sample": "30/30/40(OBC/PE-PP/R5)", "Temperature": 82.2, "TanDelta": 0.556},
      {"Sample": "30/30/40(OBC/PE-PP/R5)", "Temperature": 94.5, "TanDelta": 0.706},
      {"Sample": "30/30/40(OBC/PE-PP/R5)", "Temperature": 99.8, "TanDelta": 0.809},
      {"Sample": "30/30/40(OBC/PE-PP/R5)", "Temperature": 104.7, "TanDelta": 0.995},
      {"Sample": "30/30/40(OBC/PE-PP/R5)", "Temperature": 109.5, "TanDelta": 1.36},
      {"Sample": "30/30/40(OBC/PE-PP/R5)", "Temperature": 114.8, "TanDelta": 1.86},
      {"Sample": "30/30/40(OBC/PE-PP/R5)", "Temperature": 118.5, "TanDelta": 2.16},
      {"Sample": "30/30/40(OBC/PE-PP/R5)", "Temperature": 124.5, "TanDelta": 2.47},
      {"Sample": "30/30/40(OBC/PE-PP/R5)", "Temperature": 130.9, "TanDelta": 2.74},
      {"Sample": "30/30/40(OBC/PE-PP/R5)", "Temperature": 135.8, "TanDelta": 2.98},
      {"Sample": "30/30/40(OBC/PE-PP/R5)", "Temperature": 141.1, "TanDelta": 3.60}
    ],
    "pointers": [
      {"Temperature": -39.0, "ToTemp": -78.0, "FromModulus": 2.49e8, "ToModulus": 2.49e8},
      {"Temperature": -78.0, "ToTemp": -70.9, "FromModulus": 2.49e8, "ToModulus": 3.06e8},
      {"Temperature": -78.0, "ToTemp": -70.9, "FromModulus": 2.49e8, "ToModulus": 2.06e8},
      {"Temperature": 112.2, "ToTemp": 163.2, "FromModulus": 3.65e7, "ToModulus": 3.43e7},
      {"Temperature": 163.2, "ToTemp": 156.4, "FromModulus": 3.43e7, "ToModulus": 4.31e7},
      {"Temperature": 163.2, "ToTemp": 156.4, "FromModulus": 3.43e7, "ToModulus": 2.84e7}
    ]
  },
  "encoding": {
    "x": {
      "field": "Temperature", "type": "quantitative", "title": "Temperature, °C",
      "scale": {"domain": [-80, 240], "nice": false, "zero": false},
      "axis": {
        "values": [-80,-72,-64,-56,-48,-40,-32,-24,-16,-8,0,8,16,24,32,40,48,56,64,72,80,88,96,104,112,120,128,136,144,152,160,168,176,184,192,200,208,216,224,232,240],
        "labelExpr": "datum.value % 40 === 0 ? '' + datum.value : ''",
        "labelOverlap": false,
        "labelFlush": false,
        "labelPadding": 22,
        "titlePadding": 16
      }
    }
  },
  "layer": [
    {
      "data": {"name": "storage"},
      "mark": {"type": "line", "strokeWidth": 4.5, "strokeDash": [15, 23], "strokeCap": "round", "interpolate": "monotone", "clip": true},
      "encoding": {
        "y": {
          "field": "StorageModulus", "type": "quantitative", "title": "_ _ _G' (Pa * 10⁻¹)",
          "scale": {"type": "log", "domain": [1e4, 1e10], "nice": false},
          "axis": {
            "orient": "left",
            "values": [1e4,2e4,3e4,4e4,5e4,6e4,7e4,8e4,9e4,1e5,2e5,3e5,4e5,5e5,6e5,7e5,8e5,9e5,1e6,2e6,3e6,4e6,5e6,6e6,7e6,8e6,9e6,1e7,2e7,3e7,4e7,5e7,6e7,7e7,8e7,9e7,1e8,2e8,3e8,4e8,5e8,6e8,7e8,8e8,9e8,1e9,2e9,3e9,4e9,5e9,6e9,7e9,8e9,9e9,1e10],
            "labelExpr": "abs(log(datum.value)/LN10 - round(log(datum.value)/LN10)) < 0.001 ? '1.E+' + (round(log(datum.value)/LN10) < 10 ? '0' : '') + round(log(datum.value)/LN10) : ''",
            "labelOverlap": false,
            "labelPadding": 20,
            "titleX": -110,
            "titleY": 360,
            "titleAngle": 270,
            "titleAlign": "center",
            "titleBaseline": "middle",
            "titleColor": "#000000"
          }
        },
        "color": {
          "field": "Sample", "type": "nominal",
          "scale": {
            "domain": ["OBC", "PE-PP", "50/50(OBC/PE-PP)", "40/40/20(OBC/PE-PP/R5)", "35/35/30(OBC/PE-PP/R5)", "30/30/40(OBC/PE-PP/R5)"],
            "range": ["#262626", "#953735", "#4BACC6", "#4F6228", "#F79646", "#FF0000"]
          },
          "legend": {
            "orient": "none",
            "legendX": -54,
            "legendY": 738,
            "columns": 2,
            "title": null,
            "values": ["OBC", "50/50(OBC/PE-PP)", "35/35/30(OBC/PE-PP/R5)", "PE-PP", "40/40/20(OBC/PE-PP/R5)", "30/30/40(OBC/PE-PP/R5)"],
            "symbolType": "M-1,0H1.2M3.1,0H5.3",
            "symbolSize": 400,
            "symbolStrokeWidth": 6,
            "symbolDash": [100, 0],
            "symbolOffset": 43,
            "labelOffset": 57,
            "labelFont": "Liberation Sans",
            "labelFontSize": 23,
            "labelFontWeight": "bold",
            "labelColor": "#000000",
            "labelLimit": 0,
            "columnPadding": 55,
            "rowPadding": 4.5,
            "padding": 6,
            "strokeColor": "#404040",
            "fillColor": "#ffffff"
          }
        },
        "detail": {"field": "Sample"}
      }
    },
    {
      "data": {"name": "damping"},
      "mark": {"type": "line", "strokeWidth": 4, "strokeCap": "round", "strokeJoin": "round", "interpolate": "monotone", "clip": true},
      "encoding": {
        "y": {
          "field": "TanDelta", "type": "quantitative", "title": "Tan Delta",
          "scale": {"type": "log", "domain": [0.01, 10], "nice": false},
          "axis": {
            "orient": "right",
            "values": [0.01,0.02,0.03,0.04,0.05,0.06,0.07,0.08,0.09,0.1,0.2,0.3,0.4,0.5,0.6,0.7,0.8,0.9,1,2,3,4,5,6,7,8,9,10],
            "labelExpr": "abs(log(datum.value)/LN10 - round(log(datum.value)/LN10)) < 0.001 ? format(datum.value, '~g') : ''",
            "labelOverlap": false,
            "labelPadding": 19,
            "titleX": 56,
            "titleY": 331,
            "titleAngle": 90,
            "titleAlign": "center",
            "titleBaseline": "middle"
          }
        },
        "color": {"field": "Sample", "type": "nominal", "legend": null}
      }
    },
    {
      "data": {"name": "pointers"},
      "mark": {"type": "rule", "color": "#000000", "strokeWidth": 2.6, "strokeCap": "round"},
      "encoding": {
        "x2": {"field": "ToTemp"},
        "y": {"field": "FromModulus", "type": "quantitative", "scale": {"type": "log", "domain": [1e4, 1e10], "nice": false}, "axis": null},
        "y2": {"field": "ToModulus"}
      }
    }
  ],
  "resolve": {"scale": {"y": "independent"}, "legend": {"color": "independent"}}
}
